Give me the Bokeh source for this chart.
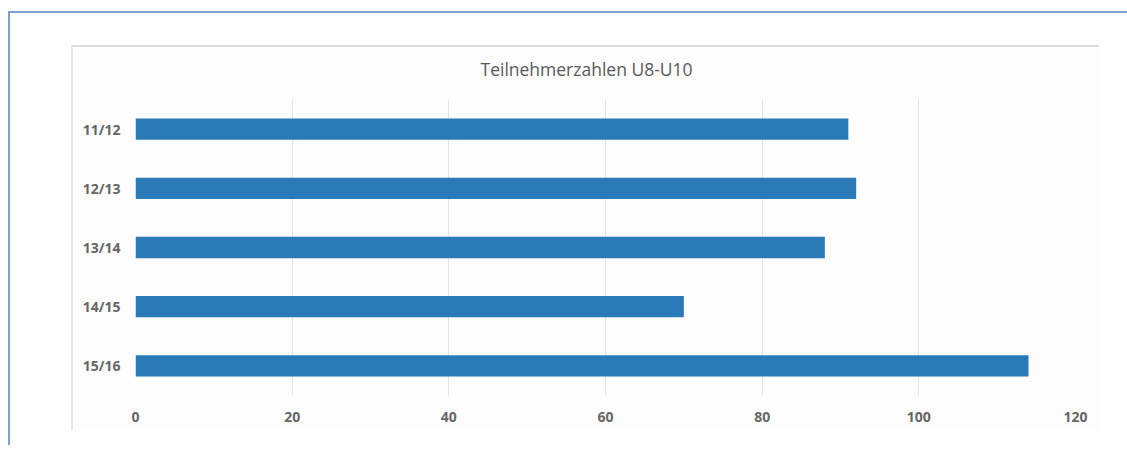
from bokeh.plotting import figure
from bokeh.models import Range1d, FactorRange, FixedTicker, Title
from bokeh.layouts import column
from bokeh.embed import file_html
from bokeh.resources import INLINE

seasons = ["11/12", "12/13", "13/14", "14/15", "15/16"]
participants = [91, 92, 88, 70, 114]
x_ticks = [0, 20, 40, 60, 80, 100, 120]
chart_title = "Teilnehmerzahlen U8-U10"

p = figure(width=1028, height=385, title=None,
           y_range=FactorRange(*seasons[::-1]),
           x_range=Range1d(0, 120),
           output_backend="svg", toolbar_location=None,
           min_border_left=62, min_border_right=26,
           min_border_top=52, min_border_bottom=37)

p.hbar(y=seasons, right=participants, height=0.36, color="#2a7ab8", line_color=None)

# spacer between plot area and title
p.add_layout(Title(text=" ", text_font_size="1px", standoff=11), "above")
p.add_layout(Title(text=chart_title, align="left", offset=345, standoff=10,
                   text_font="Open Sans", text_font_size="17.5px",
                   text_font_style="normal", text_color="#595959"), "above")

p.background_fill_color = "#fdfdfd"
p.border_fill_color = "#fdfdfd"
p.outline_line_color = None

p.xaxis.ticker = FixedTicker(ticks=x_ticks)
p.xaxis.axis_line_color = None
p.xaxis.major_tick_line_color = None
p.xaxis.minor_tick_line_color = None
p.xaxis.major_label_standoff = 10
p.yaxis.axis_line_color = None
p.yaxis.major_tick_line_color = None
p.yaxis.major_label_standoff = 9
for ax in (p.xaxis, p.yaxis):
    ax.major_label_text_font = "Open Sans"
    ax.major_label_text_font_size = "14px"
    ax.major_label_text_font_style = "bold"
    ax.major_label_text_color = "#666666"

p.xgrid.grid_line_color = "#e4e4e4"
p.ygrid.grid_line_color = None

p.styles = {"border-top": "2px solid #dcdcdc", "border-left": "2px solid #e6e6e6"}

root = column(p, width=1119,
              styles={"border-top": "2px solid #7aa0d4",
                      "border-left": "2px solid #7aa0d4",
                      "margin-left": "8px", "margin-top": "11px",
                      "padding-left": "61px", "padding-top": "32px",
                      "padding-bottom": "15px"})

open("out.html", "w").write(file_html(root, INLINE))
